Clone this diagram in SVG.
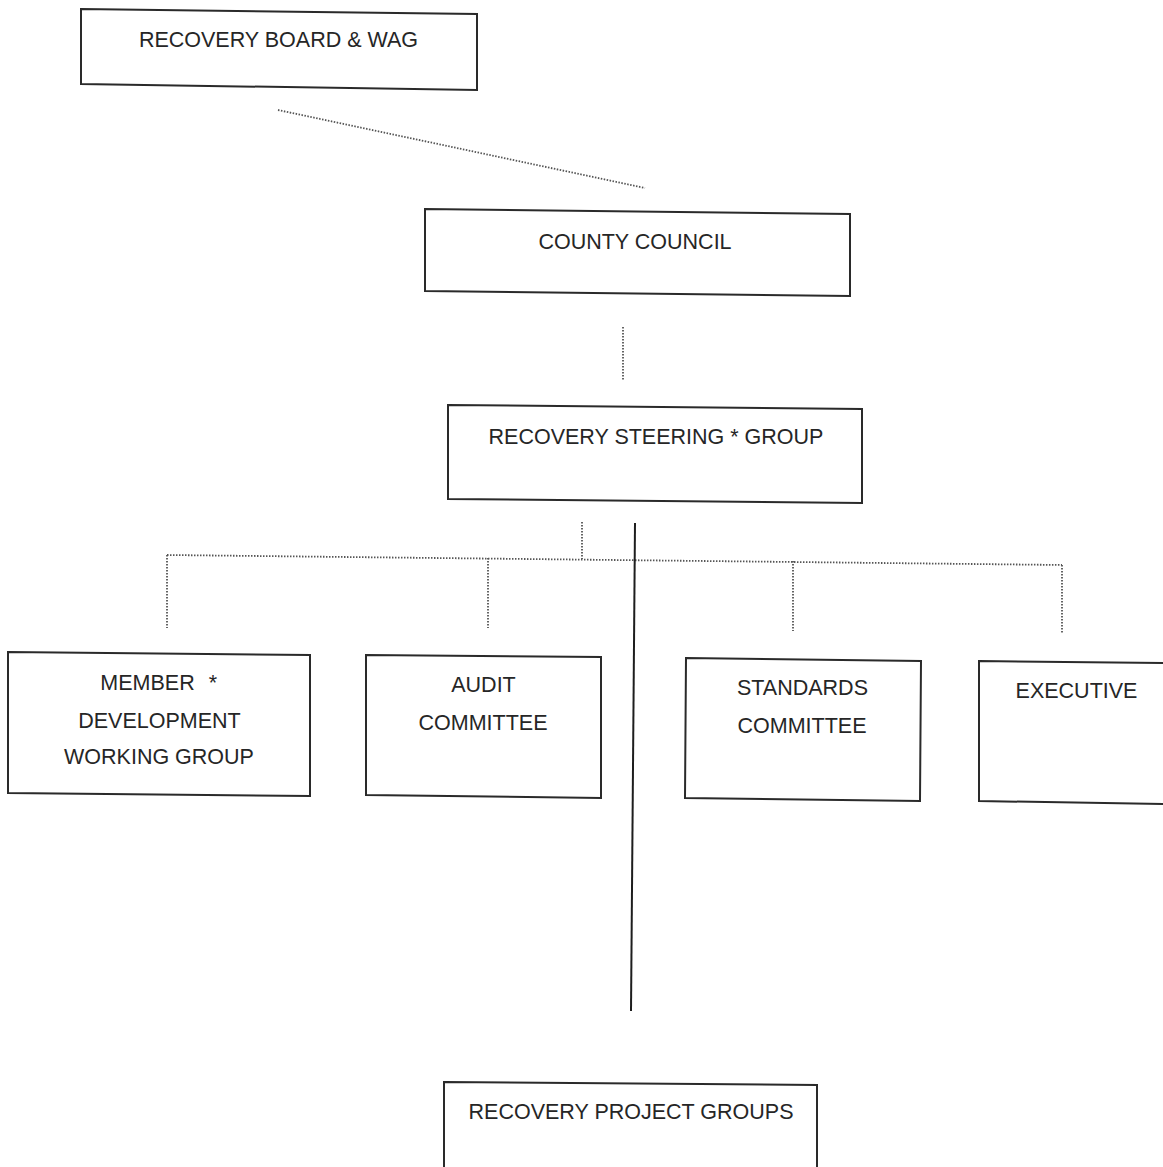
<svg xmlns="http://www.w3.org/2000/svg" width="1163" height="1167" viewBox="0 0 1163 1167">
<style>
.box{fill:#fff;stroke:#2a2a2a;stroke-width:2}
.lbl{font-family:"Liberation Sans",Arial,sans-serif;font-size:21.5px;fill:#262626;text-anchor:middle}
.dot{fill:none;stroke:#555;stroke-width:1.8;stroke-dasharray:1.5 1.5}
.solid{fill:none;stroke:#1e1e1e;stroke-width:2}
</style>
<rect width="1163" height="1167" fill="#fff"/>
<g id="connectors">
<line class="dot" x1="278" y1="110" x2="645" y2="188"/>
<line class="dot" x1="623" y1="327" x2="623" y2="381"/>
<line class="dot" x1="582" y1="522" x2="582" y2="559"/>
<line class="dot" x1="167" y1="555" x2="1062" y2="565"/>
<line class="dot" x1="167" y1="555" x2="167" y2="628"/>
<line class="dot" x1="488" y1="558" x2="488" y2="628"/>
<line class="dot" x1="793" y1="561" x2="793" y2="631"/>
<line class="dot" x1="1062" y1="565" x2="1062" y2="633"/>
<line class="solid" x1="635" y1="523" x2="631" y2="1011"/>
</g>
<g id="recovery-board">
<polygon class="box" points="81,9 477,14 477,90 81,84"/>
<text class="lbl" x="278.5" y="47">RECOVERY BOARD &amp; WAG</text>
</g>
<g id="county-council">
<polygon class="box" points="425,209 850,214 850,296 425,291"/>
<text class="lbl" x="635" y="249">COUNTY COUNCIL</text>
</g>
<g id="steering-group">
<polygon class="box" points="448,405 862,409 862,503 448,499"/>
<text class="lbl" x="656" y="444">RECOVERY STEERING * GROUP</text>
</g>
<g id="member-dev">
<polygon class="box" points="8,652 310,655 310,796 8,793"/>
<text class="lbl" x="147.5" y="690">MEMBER<tspan x="213">*</tspan></text>
<text class="lbl" x="159.5" y="728">DEVELOPMENT</text>
<text class="lbl" x="159" y="764">WORKING GROUP</text>
</g>
<g id="audit">
<polygon class="box" points="366,655 601,657 601,798 366,795"/>
<text class="lbl" x="483.5" y="692">AUDIT</text>
<text class="lbl" x="483" y="730">COMMITTEE</text>
</g>
<g id="standards">
<polygon class="box" points="686,658 921,661 920,801 685,798"/>
<text class="lbl" x="802.5" y="695">STANDARDS</text>
<text class="lbl" x="802" y="733">COMMITTEE</text>
</g>
<g id="executive">
<polygon class="box" points="979,661 1166,663 1166,804 979,801"/>
<text class="lbl" x="1076.5" y="698">EXECUTIVE</text>
</g>
<g id="project-groups">
<polygon class="box" points="444,1082 817,1085 817,1172 444,1172"/>
<text class="lbl" x="631" y="1119">RECOVERY PROJECT GROUPS</text>
</g>
</svg>
